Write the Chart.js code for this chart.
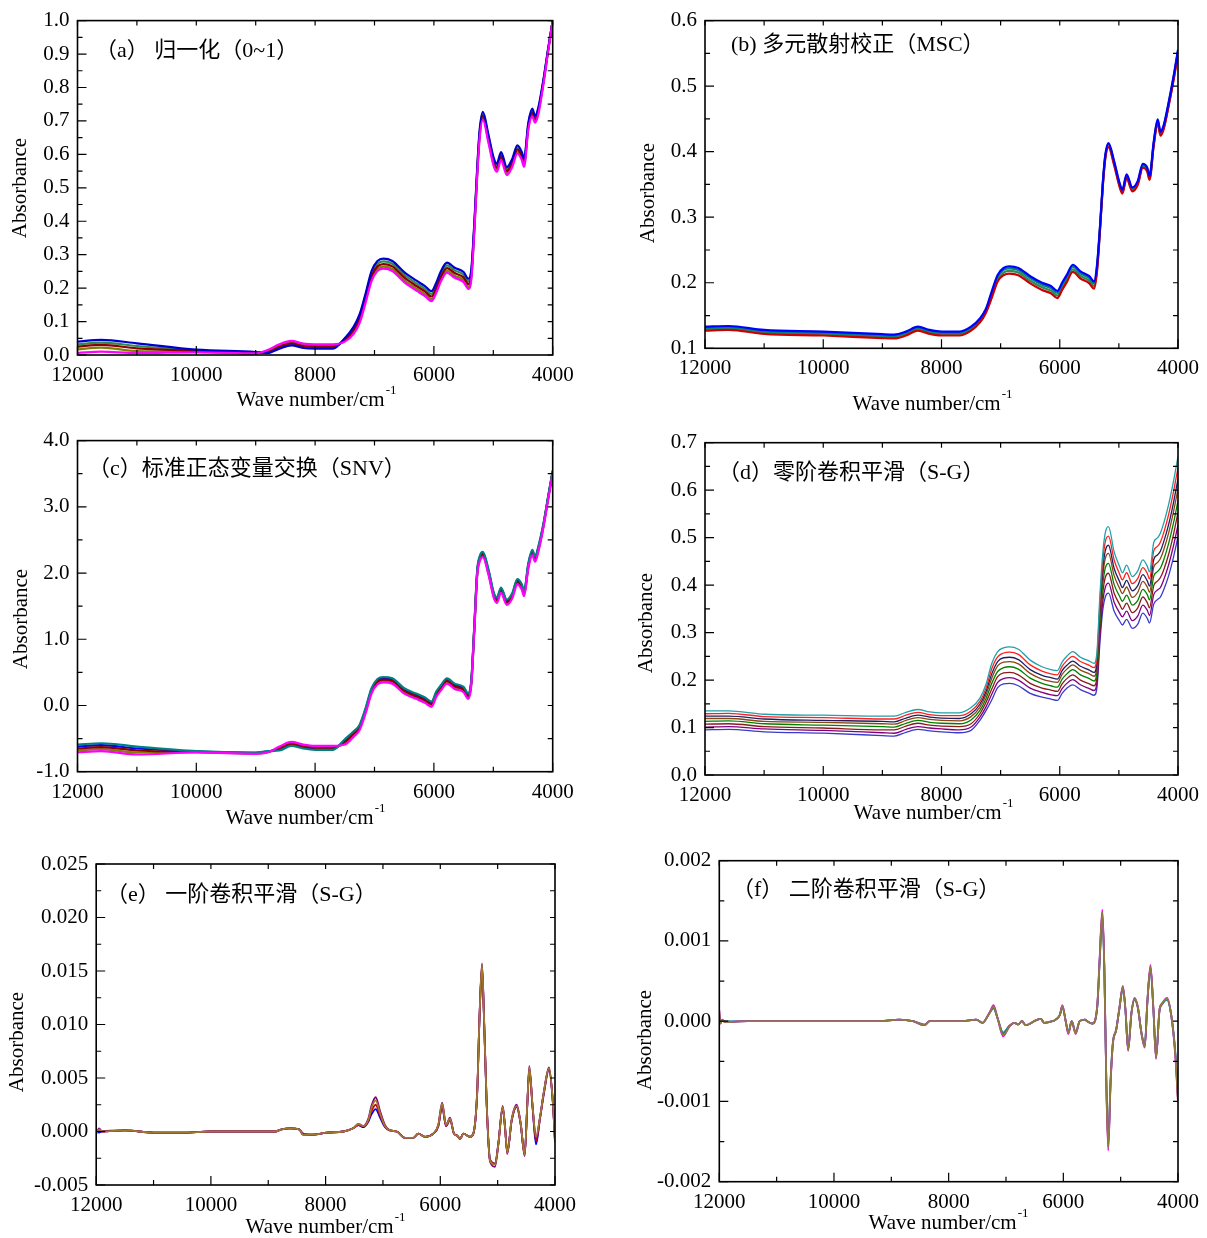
<!DOCTYPE html>
<html><head><meta charset="utf-8">
<script src="https://cdn.jsdelivr.net/npm/chart.js@4.4.1/dist/chart.umd.min.js"></script>
<style>
html,body{margin:0;padding:0;background:#fff;}
#wrap{position:relative;width:1207px;height:1238px;background:#fff;overflow:hidden;}
canvas{position:absolute;}
</style></head><body><div id="wrap">
<canvas id="ca" style="left:0px;top:0px" width="600" height="420"></canvas>
<canvas id="cb" style="left:600px;top:0px" width="607" height="420"></canvas>
<canvas id="cc" style="left:0px;top:420px" width="600" height="420"></canvas>
<canvas id="cd" style="left:600px;top:420px" width="607" height="420"></canvas>
<canvas id="ce" style="left:0px;top:840px" width="600" height="398"></canvas>
<canvas id="cf" style="left:600px;top:840px" width="607" height="398"></canvas>
</div>
<script>
// ---------- wavenumber grids (cm-1) ----------
const wn = [12000, 11600, 11000, 10000, 9000, 8800, 8600, 8400, 8200, 8000,
  7700, 7500, 7350, 7250, 7150, 7050, 6950, 6850, 6700, 6500,
  6300, 6150, 6040, 5960, 5880, 5780, 5650, 5500, 5420, 5370,
  5320, 5270, 5230, 5176, 5080, 4990, 4940, 4870, 4773, 4680,
  4595, 4520, 4482, 4410, 4343, 4297, 4242, 4158, 4074, 4000];
const wnE = [12000, 11950, 11900, 11500, 11000, 10500, 10000, 9500, 9000, 8880,
  8770, 8620, 8460, 8390, 8215, 7980, 7690, 7520, 7430, 7340,
  7255, 7200, 7127, 7050, 6964, 6877, 6760, 6616, 6470, 6383,
  6267, 6122, 6035, 5968, 5900, 5831, 5761, 5703, 5656, 5599,
  5482, 5424, 5355, 5320, 5273, 5238, 5191, 5133, 5046, 4988,
  4912, 4872, 4832, 4756, 4669, 4599, 4529, 4483, 4448, 4390,
  4331, 4262, 4192, 4105, 4040, 4000];
const wnF = [12000, 11980, 11950, 11900, 11500, 11000, 10000, 9200, 8860, 8620,
  8420, 8330, 7760, 7520, 7410, 7290, 7217, 7148, 7049, 6944,
  6857, 6783, 6723, 6654, 6480, 6393, 6336, 6191, 6133, 6060,
  6017, 5958, 5913, 5854, 5785, 5715, 5623, 5583, 5494, 5409,
  5367, 5320, 5285, 5250, 5217, 5176, 5136, 5078, 5019, 4962,
  4916, 4870, 4812, 4758, 4701, 4638, 4580, 4533, 4480, 4428,
  4383, 4323, 4278, 4191, 4115, 4045, 4000];

// ---------- (a) normalization ----------
const normA1 = [0.040, 0.045, 0.035, 0.016, 0.009, 0.006, 0.019, 0.029, 0.021, 0.019,
  0.019, 0.050, 0.085, 0.122, 0.184, 0.251, 0.281, 0.288, 0.281, 0.248,
  0.223, 0.206, 0.191, 0.216, 0.251, 0.276, 0.261, 0.248, 0.228, 0.256,
  0.392, 0.562, 0.672, 0.727, 0.657, 0.587, 0.572, 0.607, 0.562, 0.587,
  0.627, 0.607, 0.587, 0.695, 0.737, 0.715, 0.740, 0.822, 0.919, 1.0];
const normA2 = [0.032, 0.037, 0.027, 0.014, 0.007, 0.007, 0.022, 0.032, 0.024, 0.022,
  0.022, 0.049, 0.080, 0.117, 0.177, 0.243, 0.273, 0.280, 0.273, 0.240,
  0.215, 0.198, 0.183, 0.208, 0.243, 0.268, 0.253, 0.240, 0.220, 0.248,
  0.386, 0.556, 0.666, 0.721, 0.651, 0.581, 0.566, 0.601, 0.556, 0.581,
  0.621, 0.601, 0.581, 0.690, 0.731, 0.710, 0.735, 0.818, 0.917, 1.0];
const normA3 = [0.025, 0.030, 0.020, 0.012, 0.006, 0.008, 0.025, 0.035, 0.027, 0.025,
  0.025, 0.045, 0.075, 0.110, 0.170, 0.235, 0.265, 0.272, 0.265, 0.232,
  0.207, 0.190, 0.175, 0.200, 0.235, 0.260, 0.245, 0.232, 0.212, 0.240,
  0.380, 0.550, 0.660, 0.715, 0.645, 0.575, 0.560, 0.595, 0.550, 0.575,
  0.615, 0.595, 0.575, 0.685, 0.725, 0.705, 0.730, 0.815, 0.915, 1.0];
const normA4 = [0.017, 0.022, 0.012, 0.010, 0.005, 0.011, 0.028, 0.038, 0.030, 0.028,
  0.028, 0.043, 0.070, 0.103, 0.162, 0.227, 0.257, 0.264, 0.257, 0.224,
  0.199, 0.182, 0.167, 0.192, 0.227, 0.252, 0.237, 0.224, 0.204, 0.232,
  0.374, 0.544, 0.654, 0.709, 0.639, 0.569, 0.554, 0.589, 0.544, 0.569,
  0.609, 0.589, 0.569, 0.680, 0.719, 0.700, 0.725, 0.812, 0.913, 1.0];
const normA5 = [0.006, 0.010, 0.006, 0.008, 0.005, 0.015, 0.032, 0.042, 0.034, 0.032,
  0.032, 0.040, 0.063, 0.096, 0.156, 0.221, 0.251, 0.258, 0.251, 0.218,
  0.193, 0.176, 0.161, 0.186, 0.221, 0.246, 0.231, 0.218, 0.198, 0.226,
  0.368, 0.538, 0.648, 0.703, 0.633, 0.563, 0.548, 0.583, 0.538, 0.563,
  0.603, 0.583, 0.563, 0.675, 0.713, 0.695, 0.720, 0.808, 0.911, 1.0];

// ---------- (b) MSC ----------
const mscB1 = [0.133, 0.134, 0.128, 0.1255, 0.1215, 0.121, 0.1255, 0.133, 0.128, 0.1255,
  0.1255, 0.133, 0.1455, 0.160, 0.187, 0.212, 0.2225, 0.225, 0.2225, 0.210,
  0.200, 0.195, 0.1875, 0.200, 0.212, 0.2275, 0.2175, 0.210, 0.202, 0.227,
  0.285, 0.355, 0.395, 0.413, 0.3855, 0.353, 0.342, 0.3655, 0.3455, 0.3555,
  0.3815, 0.3755, 0.363, 0.4155, 0.4495, 0.4305, 0.4405, 0.4755, 0.5155, 0.5555];
const mscB2 = [0.131, 0.132, 0.126, 0.1235, 0.1195, 0.119, 0.1235, 0.131, 0.126, 0.1235,
  0.1235, 0.131, 0.1435, 0.158, 0.184, 0.209, 0.2195, 0.222, 0.2195, 0.207,
  0.197, 0.192, 0.1845, 0.197, 0.209, 0.2245, 0.2145, 0.207, 0.199, 0.224,
  0.283, 0.353, 0.393, 0.411, 0.3835, 0.351, 0.340, 0.3635, 0.3435, 0.3535,
  0.3795, 0.3735, 0.361, 0.4135, 0.4475, 0.4285, 0.4385, 0.4735, 0.5135, 0.5535];
const mscB3 = [0.129, 0.130, 0.124, 0.1215, 0.1175, 0.117, 0.1215, 0.129, 0.124, 0.1215,
  0.1215, 0.129, 0.1415, 0.156, 0.180, 0.205, 0.2155, 0.218, 0.2155, 0.203,
  0.193, 0.188, 0.1805, 0.193, 0.205, 0.2205, 0.2105, 0.203, 0.195, 0.220,
  0.281, 0.351, 0.391, 0.409, 0.3815, 0.349, 0.338, 0.3615, 0.3415, 0.3515,
  0.3775, 0.3715, 0.359, 0.4115, 0.4455, 0.4265, 0.4365, 0.4715, 0.5115, 0.5515];
const mscB4 = [0.127, 0.128, 0.122, 0.1195, 0.1155, 0.115, 0.1195, 0.127, 0.122, 0.1195,
  0.1195, 0.127, 0.1395, 0.154, 0.177, 0.202, 0.2115, 0.214, 0.2115, 0.199,
  0.189, 0.184, 0.1765, 0.189, 0.201, 0.2165, 0.2065, 0.199, 0.191, 0.217,
  0.279, 0.349, 0.389, 0.407, 0.3795, 0.347, 0.336, 0.3595, 0.3395, 0.3495,
  0.3755, 0.3695, 0.357, 0.4095, 0.4435, 0.4245, 0.4345, 0.4695, 0.5095, 0.5495];

// ---------- (c) SNV ----------
const snvC1 = [-0.59, -0.57, -0.62, -0.69, -0.71, -0.69, -0.68, -0.61, -0.65, -0.67,
  -0.67, -0.51, -0.39, -0.29, -0.04, 0.26, 0.40, 0.43, 0.41, 0.26,
  0.18, 0.12, 0.06, 0.21, 0.31, 0.41, 0.33, 0.28, 0.18, 0.39,
  1.20, 2.05, 2.25, 2.32, 2.05, 1.70, 1.63, 1.78, 1.60, 1.70,
  1.91, 1.83, 1.73, 2.15, 2.35, 2.25, 2.40, 2.74, 3.17, 3.55];
const snvC2 = [-0.62, -0.60, -0.65, -0.695, -0.715, -0.695, -0.665, -0.595, -0.635, -0.655,
  -0.655, -0.53, -0.41, -0.31, -0.06, 0.24, 0.38, 0.41, 0.39, 0.24,
  0.16, 0.10, 0.04, 0.19, 0.29, 0.39, 0.31, 0.26, 0.16, 0.37,
  1.18, 2.03, 2.23, 2.30, 2.03, 1.68, 1.61, 1.76, 1.58, 1.68,
  1.89, 1.81, 1.71, 2.13, 2.33, 2.23, 2.38, 2.72, 3.16, 3.54];
const snvC3 = [-0.65, -0.63, -0.68, -0.70, -0.72, -0.70, -0.65, -0.58, -0.62, -0.64,
  -0.64, -0.55, -0.43, -0.33, -0.08, 0.22, 0.36, 0.39, 0.37, 0.22,
  0.14, 0.08, 0.02, 0.17, 0.27, 0.37, 0.29, 0.24, 0.14, 0.35,
  1.16, 2.01, 2.21, 2.28, 2.01, 1.66, 1.59, 1.74, 1.56, 1.66,
  1.87, 1.79, 1.69, 2.11, 2.31, 2.21, 2.36, 2.71, 3.15, 3.53];
const snvC4 = [-0.68, -0.66, -0.71, -0.705, -0.725, -0.705, -0.635, -0.565, -0.605, -0.625,
  -0.625, -0.57, -0.45, -0.35, -0.10, 0.20, 0.34, 0.37, 0.35, 0.20,
  0.12, 0.06, 0.00, 0.15, 0.25, 0.35, 0.27, 0.22, 0.12, 0.33,
  1.14, 1.99, 2.19, 2.26, 1.99, 1.64, 1.57, 1.72, 1.54, 1.64,
  1.85, 1.77, 1.67, 2.09, 2.29, 2.19, 2.34, 2.70, 3.14, 3.52];
const snvC5 = [-0.71, -0.69, -0.74, -0.71, -0.73, -0.71, -0.62, -0.55, -0.59, -0.61,
  -0.61, -0.59, -0.47, -0.37, -0.12, 0.18, 0.32, 0.35, 0.33, 0.18,
  0.10, 0.04, -0.02, 0.13, 0.23, 0.33, 0.25, 0.20, 0.10, 0.31,
  1.12, 1.97, 2.17, 2.24, 1.97, 1.62, 1.55, 1.70, 1.52, 1.62,
  1.83, 1.75, 1.65, 2.07, 2.27, 2.17, 2.32, 2.68, 3.12, 3.51];

// ---------- (d) zero-order S-G smoothing ----------
const sgD1 = [0.135, 0.135, 0.128, 0.126, 0.124, 0.124, 0.132, 0.138, 0.133, 0.131,
  0.131, 0.142, 0.162, 0.190, 0.235, 0.260, 0.268, 0.270, 0.265, 0.242,
  0.228, 0.222, 0.220, 0.238, 0.250, 0.260, 0.248, 0.240, 0.235, 0.260,
  0.380, 0.470, 0.510, 0.523, 0.470, 0.440, 0.426, 0.442, 0.418, 0.430,
  0.453, 0.440, 0.428, 0.490, 0.500, 0.510, 0.530, 0.570, 0.620, 0.671];
const sgD2 = [0.129, 0.130, 0.123, 0.121, 0.118, 0.118, 0.126, 0.132, 0.127, 0.125,
  0.125, 0.135, 0.155, 0.182, 0.224, 0.249, 0.257, 0.259, 0.254, 0.232,
  0.219, 0.213, 0.211, 0.229, 0.241, 0.250, 0.239, 0.231, 0.226, 0.250,
  0.366, 0.453, 0.491, 0.503, 0.453, 0.424, 0.411, 0.426, 0.403, 0.414,
  0.437, 0.425, 0.413, 0.472, 0.482, 0.491, 0.510, 0.549, 0.598, 0.647];
const sgD3 = [0.124, 0.124, 0.118, 0.115, 0.113, 0.112, 0.120, 0.126, 0.122, 0.120,
  0.119, 0.129, 0.149, 0.175, 0.213, 0.239, 0.247, 0.248, 0.243, 0.222,
  0.210, 0.205, 0.202, 0.220, 0.231, 0.240, 0.229, 0.221, 0.216, 0.239,
  0.352, 0.436, 0.472, 0.484, 0.435, 0.408, 0.395, 0.410, 0.388, 0.399,
  0.422, 0.409, 0.398, 0.454, 0.464, 0.472, 0.491, 0.528, 0.575, 0.624];
const sgD4 = [0.119, 0.119, 0.113, 0.111, 0.108, 0.107, 0.115, 0.121, 0.117, 0.115,
  0.114, 0.123, 0.143, 0.168, 0.204, 0.230, 0.238, 0.239, 0.234, 0.214,
  0.202, 0.197, 0.195, 0.212, 0.223, 0.232, 0.221, 0.213, 0.208, 0.230,
  0.340, 0.422, 0.456, 0.467, 0.420, 0.394, 0.382, 0.396, 0.374, 0.385,
  0.408, 0.396, 0.385, 0.438, 0.448, 0.456, 0.474, 0.510, 0.556, 0.603];
const sgD5 = [0.113, 0.114, 0.108, 0.105, 0.102, 0.101, 0.109, 0.115, 0.111, 0.109,
  0.108, 0.116, 0.136, 0.160, 0.193, 0.218, 0.226, 0.228, 0.223, 0.204,
  0.193, 0.188, 0.185, 0.202, 0.213, 0.222, 0.211, 0.203, 0.198, 0.219,
  0.325, 0.404, 0.436, 0.446, 0.401, 0.377, 0.366, 0.379, 0.358, 0.368,
  0.391, 0.380, 0.369, 0.419, 0.429, 0.436, 0.453, 0.488, 0.532, 0.578];
const sgD6 = [0.107, 0.108, 0.102, 0.099, 0.095, 0.095, 0.103, 0.109, 0.105, 0.103,
  0.102, 0.108, 0.129, 0.152, 0.181, 0.207, 0.215, 0.216, 0.211, 0.193,
  0.183, 0.179, 0.176, 0.192, 0.203, 0.211, 0.200, 0.192, 0.188, 0.208,
  0.310, 0.386, 0.416, 0.425, 0.383, 0.360, 0.349, 0.362, 0.342, 0.352,
  0.375, 0.363, 0.352, 0.399, 0.409, 0.416, 0.432, 0.465, 0.508, 0.553];
const sgD7 = [0.101, 0.102, 0.097, 0.094, 0.089, 0.088, 0.096, 0.102, 0.099, 0.097,
  0.095, 0.101, 0.122, 0.143, 0.170, 0.195, 0.203, 0.205, 0.200, 0.183,
  0.174, 0.169, 0.167, 0.182, 0.193, 0.201, 0.190, 0.182, 0.178, 0.196,
  0.295, 0.368, 0.395, 0.404, 0.364, 0.342, 0.333, 0.345, 0.325, 0.335,
  0.358, 0.347, 0.336, 0.380, 0.390, 0.395, 0.411, 0.443, 0.484, 0.527];
const sgD8 = [0.095, 0.096, 0.091, 0.088, 0.083, 0.082, 0.090, 0.096, 0.093, 0.091,
  0.089, 0.094, 0.115, 0.135, 0.158, 0.184, 0.192, 0.193, 0.188, 0.172,
  0.164, 0.160, 0.157, 0.172, 0.183, 0.190, 0.180, 0.172, 0.168, 0.185,
  0.280, 0.350, 0.375, 0.383, 0.345, 0.325, 0.316, 0.328, 0.309, 0.318,
  0.341, 0.330, 0.320, 0.360, 0.370, 0.375, 0.390, 0.420, 0.460, 0.502];

// ---------- (e) first-derivative S-G ----------
const d1E1 = [-0.0002, 0.0003, 0.0, 0.0001, -0.0001, -0.0001, 0.0, 0.0, 0.0, 0.0,
  0.0002, 0.0003, 0.0002, -0.0003, -0.0003, -0.0001, 0.0, 0.0003, 0.0007, 0.0005,
  0.0012, 0.0024, 0.0032, 0.0019, 0.0006, 0.0001, 0.0, -0.0006, -0.0006, -0.0002,
  -0.0005, -0.0002, 0.0006, 0.0027, 0.0006, 0.0013, -0.0002, -0.0004, -0.0007, -0.0002,
  -0.0005, -0.0002, 0.0040, 0.0102, 0.0157, 0.0108, 0.0026, -0.0028, -0.0033, -0.0012,
  0.0024, 0.0005, -0.0021, 0.0011, 0.0025, 0.0008, -0.0023, 0.0026, 0.0061, 0.0023,
  -0.0006, 0.0013, 0.0038, 0.0060, 0.0030, -0.0010];
const d1E2 = [-0.0002, 0.0002, 0.0, 0.0001, -0.0001, -0.0001, 0.0, 0.0, 0.0, 0.0,
  0.0002, 0.0003, 0.0002, -0.0003, -0.0003, -0.0001, 0.0, 0.0003, 0.0007, 0.0005,
  0.0011, 0.0022, 0.0029, 0.0017, 0.0005, 0.0001, 0.0, -0.0006, -0.0006, -0.0002,
  -0.0005, -0.0002, 0.0006, 0.0026, 0.0006, 0.0012, -0.0002, -0.0004, -0.0007, -0.0002,
  -0.0005, -0.0002, 0.0039, 0.0101, 0.0156, 0.0107, 0.0026, -0.0027, -0.0031, -0.0012,
  0.0023, 0.0005, -0.0020, 0.0011, 0.0024, 0.0008, -0.0022, 0.0026, 0.0060, 0.0023,
  -0.0005, 0.0013, 0.0038, 0.0059, 0.0030, -0.0010];
const d1E3 = [-0.0001, 0.0001, 0.0, 0.0001, -0.0001, -0.0001, 0.0, 0.0, 0.0, 0.0,
  0.0002, 0.0003, 0.0002, -0.0003, -0.0003, -0.0001, 0.0, 0.0003, 0.0006, 0.0005,
  0.0010, 0.0019, 0.0025, 0.0015, 0.0005, 0.0001, 0.0, -0.0006, -0.0006, -0.0002,
  -0.0005, -0.0002, 0.0005, 0.0024, 0.0005, 0.0011, -0.0002, -0.0004, -0.0007, -0.0002,
  -0.0005, -0.0002, 0.0038, 0.0100, 0.0154, 0.0106, 0.0025, -0.0027, -0.0030, -0.0012,
  0.0022, 0.0004, -0.0020, 0.0010, 0.0023, 0.0007, -0.0022, 0.0025, 0.0058, 0.0022,
  -0.0009, 0.0012, 0.0037, 0.0058, 0.0029, -0.0009];
const d1E4 = [0.0, -0.0001, 0.0, 0.0001, -0.0001, -0.0001, 0.0, 0.0, 0.0, 0.0,
  0.0002, 0.0003, 0.0002, -0.0002, -0.0003, -0.0001, 0.0, 0.0003, 0.0006, 0.0004,
  0.0009, 0.0016, 0.0021, 0.0013, 0.0004, 0.0001, 0.0, -0.0006, -0.0006, -0.0002,
  -0.0005, -0.0002, 0.0005, 0.0023, 0.0005, 0.0011, -0.0002, -0.0004, -0.0007, -0.0002,
  -0.0005, -0.0002, 0.0038, 0.0100, 0.0153, 0.0106, 0.0025, -0.0026, -0.0030, -0.0011,
  0.0022, 0.0004, -0.0019, 0.0010, 0.0023, 0.0007, -0.0021, 0.0025, 0.0058, 0.0022,
  -0.0012, 0.0012, 0.0036, 0.0058, 0.0029, -0.0008];

// ---------- (f) second-derivative S-G ----------
const d2F1 = [0.00014, -0.00003, 0.00002, -0.00001, 0, 0, 0, 0, 0.00002, 0,
  -0.00005, 0, 0, 0.00002, -0.00002, 0.0001, 0.0002, 0.00004, -0.00019, -0.00007,
  -0.00002, -0.00004, 0, -0.00005, 0.00001, 0.00003, -0.00002, 0, 0.00002, 0.00008,
  0.0002, 0, -0.00016, 0, -0.00016, 0, 0.00002, 0, -0.00003, 0.00019,
  0.00078, 0.00139, 0.0007, -0.00079, -0.00161, -0.00079, -0.00029, -0.00011, 0.00018, 0.00044,
  0.00014, -0.00037, 0.0001, 0.00029, 0.00018, -0.00015, -0.00033, 0.00026, 0.0007, 0.00014,
  -0.00047, 0.00014, 0.00022, 0.00029, 0.00006, -0.00045, -0.00101];
const d2F2 = [0.00012, -0.00003, 0.00002, -0.00001, 0, 0, 0, 0, 0.00002, 0,
  -0.00005, 0, 0, 0.00002, -0.00002, 0.0001, 0.00018, 0.00004, -0.00017, -0.00007,
  -0.00002, -0.00004, 0, -0.00005, 0.00001, 0.00003, -0.00002, 0, 0.00002, 0.00008,
  0.00019, 0, -0.00015, 0, -0.00015, 0, 0.00002, 0, -0.00003, 0.00018,
  0.00076, 0.00136, 0.00068, -0.00077, -0.00158, -0.00077, -0.00028, -0.00011, 0.00018, 0.00043,
  0.00014, -0.00036, 0.0001, 0.00028, 0.00018, -0.00015, -0.00032, 0.00026, 0.00068, 0.00014,
  -0.00046, 0.00014, 0.00022, 0.00028, 0.00006, -0.00044, -0.001];
const d2F3 = [0.00008, -0.00002, 0.00001, -0.00001, 0, 0, 0, 0, 0.00002, 0,
  -0.00005, 0, 0, 0.00002, -0.00002, 0.0001, 0.00016, 0.00004, -0.00015, -0.00006,
  -0.00002, -0.00004, 0, -0.00005, 0.00001, 0.00003, -0.00002, 0, 0.00002, 0.00008,
  0.00018, 0, -0.00014, 0, -0.00014, 0, 0.00002, 0, -0.00003, 0.00017,
  0.00074, 0.00133, 0.00066, -0.00075, -0.00153, -0.00075, -0.00027, -0.00011, 0.00017, 0.00042,
  0.00013, -0.00035, 0.0001, 0.00027, 0.00017, -0.00014, -0.00031, 0.00025, 0.00066, 0.00013,
  -0.00045, 0.00013, 0.00021, 0.00027, 0.00006, -0.0004, -0.00098];
const d2F4 = [0.00005, -0.00002, 0.00001, 0, 0, 0, 0, 0, 0.00002, 0,
  -0.00004, 0, 0, 0.00002, -0.00002, 0.0001, 0.00017, 0.00004, -0.00014, -0.00006,
  -0.00002, -0.00004, 0, -0.00005, 0.00001, 0.00003, -0.00002, 0, 0.00002, 0.00008,
  0.00018, 0, -0.00014, 0, -0.00014, 0, 0.00002, 0, -0.00003, 0.00017,
  0.00073, 0.0013, 0.00065, -0.00074, -0.0015, -0.00074, -0.00027, -0.0001, 0.00017, 0.00041,
  0.00013, -0.00034, 0.0001, 0.00027, 0.00017, -0.00014, -0.0003, 0.00025, 0.00066, 0.00013,
  -0.00044, 0.00013, 0.00021, 0.00027, 0.00006, -0.00042, -0.00095];

// ---------- text ----------
const notes = ['（a） 归一化（0~1）', '(b) 多元散射校正（MSC）', '（c）标准正态变量交换（SNV）',
  '（d）零阶卷积平滑（S-G）', '（e） 一阶卷积平滑（S-G）', '（f） 二阶卷积平滑（S-G）'];
const yTitle = 'Absorbance';
const xTitle = 'Wave number/cm';
const xTitleSup = '-1';

const SERIF = "'Liberation Serif', 'Times New Roman', serif";
const tickFont = {family: SERIF, size: 21};

function makeChart(id, p) {
  const frame = {
    id: 'frame_' + id,
    afterDatasetsDraw(chart) {
      const {ctx, chartArea: a, scales: {x, y}} = chart;
      ctx.save();
      ctx.strokeStyle = '#000';
      ctx.lineWidth = 1.2;
      ctx.beginPath();
      for (let v = 4000; v <= 12000; v += 1000) {
        const px = x.getPixelForValue(v);
        const major = v % 2000 === 0;
        ctx.moveTo(px, a.bottom); ctx.lineTo(px, a.bottom - (major ? 9 : 5));
        ctx.moveTo(px, a.top); ctx.lineTo(px, a.top + 5);
      }
      const minor = p.ystep / 2;
      const n = Math.round((p.ymax - p.ymin) / minor);
      for (let i = 0; i <= n; i++) {
        const py = y.getPixelForValue(p.ymin + i * minor);
        const major = i % 2 === 0;
        ctx.moveTo(a.left, py); ctx.lineTo(a.left + (major ? 9 : 5), py);
        ctx.moveTo(a.right, py); ctx.lineTo(a.right - 5, py);
      }
      ctx.stroke();
      ctx.lineWidth = 1.6;
      ctx.strokeRect(a.left, a.top, a.right - a.left, a.bottom - a.top);
      ctx.restore();
    },
    afterDraw(chart) {
      const ctx = chart.ctx;
      ctx.save();
      ctx.fillStyle = '#000';
      ctx.font = '21px ' + SERIF;
      ctx.textAlign = 'center'; ctx.textBaseline = 'middle';
      ctx.translate(p.ytitle[0], p.ytitle[1]);
      ctx.rotate(-Math.PI / 2);
      ctx.fillText(yTitle, 0, 0);
      ctx.setTransform(1, 0, 0, 1, 0, 0);
      ctx.font = '21px ' + SERIF;
      const w1 = ctx.measureText(xTitle).width;
      ctx.font = '13px ' + SERIF;
      const w2 = ctx.measureText(xTitleSup).width;
      const sx = p.xtitle[0] - (w1 + w2) / 2;
      ctx.textAlign = 'left'; ctx.textBaseline = 'middle';
      ctx.font = '21px ' + SERIF;
      ctx.fillText(xTitle, sx, p.xtitle[1]);
      ctx.font = '13px ' + SERIF;
      ctx.fillText(xTitleSup, sx + w1 + 1, p.xtitle[1] - 9);
      ctx.font = "22px 'Liberation Serif', 'Noto Sans CJK SC', serif";
      ctx.textAlign = 'left'; ctx.textBaseline = 'middle';
      ctx.fillText(p.note[0], p.note[1], p.note[2]);
      ctx.restore();
    }
  };
  return new Chart(document.getElementById(id), {
    type: 'line',
    data: {
      datasets: p.series.map(([ys, color]) => ({
        data: p.xs.map((xv, i) => ({x: xv, y: ys[i]})),
        borderColor: color, borderWidth: p.lw, pointRadius: 0, fill: false,
        cubicInterpolationMode: 'monotone'
      }))
    },
    options: {
      responsive: false, animation: false, devicePixelRatio: 1, events: [],
      layout: {padding: {left: 0, top: p.area.top, right: p.area.right, bottom: 0}},
      plugins: {legend: {display: false}, tooltip: {enabled: false}},
      scales: {
        x: {
          type: 'linear', reverse: true, min: 4000, max: 12000,
          afterFit: s => { s.height = p.area.xh; },
          grid: {display: false, drawTicks: false}, border: {display: false},
          ticks: {stepSize: 2000, autoSkip: false, maxRotation: 0, padding: 8,
                  color: '#000', font: tickFont, callback: v => String(v)}
        },
        y: {
          type: 'linear', min: p.ymin, max: p.ymax,
          afterFit: s => { s.width = p.area.left; },
          grid: {display: false, drawTicks: false}, border: {display: false},
          ticks: {stepSize: p.ystep, autoSkip: false, padding: 8, color: '#000',
                  font: tickFont, callback: v => Number(v).toFixed(p.ydec)}
        }
      }
    },
    plugins: [frame]
  });
}

makeChart('ca', {
  xs: wn, lw: 2.2,
  series: [[normA5, '#ff00ff'], [normA1, '#0000cd'], [normA3, '#8b0000'], [normA2, '#2e8b57'], [normA4, '#808000']],
  ymin: 0, ymax: 1, ystep: 0.1, ydec: 1,
  area: {left: 77.5, top: 18.3, right: 47.3, xh: 65},
  xtitle: [316, 400], ytitle: [20, 188], note: [notes[0], 95, 51]
});
makeChart('cb', {
  xs: wn, lw: 2.2,
  series: [[mscB1, '#0000ff'], [mscB4, '#cc0000'], [mscB2, '#008080'], [mscB3, '#2e8b57']],
  ymin: 0.1, ymax: 0.6, ystep: 0.1, ydec: 1,
  area: {left: 105, top: 15, right: 28.3, xh: 71.7},
  xtitle: [332, 404], ytitle: [48, 193], note: [notes[1], 131, 45]
});
makeChart('cc', {
  xs: wn, lw: 2.2,
  series: [[snvC5, '#ff00ff'], [snvC1, '#008080'], [snvC3, '#8b0000'], [snvC2, '#0000ff'], [snvC4, '#808000']],
  ymin: -1, ymax: 4, ystep: 1, ydec: 1,
  area: {left: 77.5, top: 16.7, right: 47.3, xh: 68.3},
  xtitle: [305, 398], ytitle: [21, 199], note: [notes[2], 88, 49]
});
makeChart('cd', {
  xs: wn, lw: 1.3,
  series: [[sgD1, '#20a0a8'], [sgD2, '#ff2020'], [sgD3, '#1e1e60'], [sgD4, '#8b4513'],
           [sgD5, '#008000'], [sgD6, '#8b1a1a'], [sgD7, '#800080'], [sgD8, '#3a3ac8']],
  ymin: 0, ymax: 0.7, ystep: 0.1, ydec: 1,
  area: {left: 105, top: 22.7, right: 28.3, xh: 65},
  xtitle: [333, 393], ytitle: [46, 203], note: [notes[3], 118, 53]
});
makeChart('ce', {
  xs: wnE, lw: 1.8,
  series: [[d1E2, '#a07830'], [d1E1, '#800080'], [d1E3, '#cc0000'], [d1E4, '#0000ff']],
  ymin: -0.005, ymax: 0.025, ystep: 0.005, ydec: 3,
  area: {left: 96.2, top: 24, right: 45, xh: 53},
  xtitle: [325, 387], ytitle: [17, 202], note: [notes[4], 106, 55]
});
makeChart('cf', {
  xs: wnF, lw: 1.8,
  series: [[d2F2, '#8b7d3a'], [d2F1, '#ff00ff'], [d2F3, '#008b8b'], [d2F4, '#4682b4']],
  ymin: -0.002, ymax: 0.002, ystep: 0.001, ydec: 3,
  area: {left: 119.3, top: 20.7, right: 27.7, xh: 56.3},
  xtitle: [348, 383], ytitle: [45, 200], note: [notes[5], 132, 50]
});
</script>
</body></html>
